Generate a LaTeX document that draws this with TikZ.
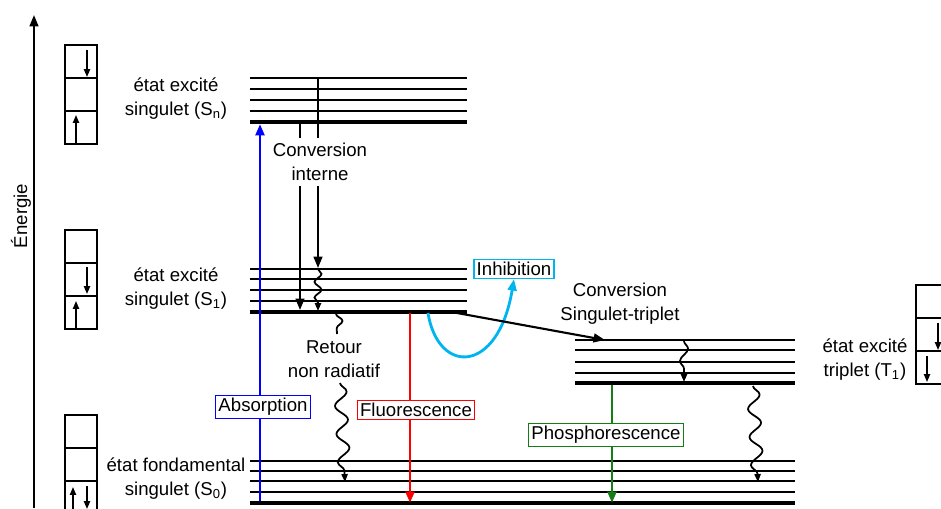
\documentclass[tikz,border=0pt]{standalone}
\usepackage{fontspec}
\setmainfont{Liberation Sans}
\usetikzlibrary{arrows.meta,decorations.pathmorphing}
\definecolor{inhibcol}{RGB}{0,180,240}
\definecolor{phoscol}{RGB}{20,125,20}
\tikzset{
  niveau/.style={line width=1pt},
  fondniveau/.style={line width=2.4pt},
  fleche/.style={line width=1.2pt,-{Triangle[length=6.5pt,width=5pt]}},
  spin/.style={line width=0.9pt,-{Triangle[length=4.5pt,width=3.5pt]}},
  ondule/.style 2 args={line width=1pt,-{Triangle[length=4.5pt,width=3.5pt]},decorate,
    decoration={snake,amplitude=#1,segment length=#2,post length=3pt}},
  etiq/.style={draw,fill=white,inner sep=1.5pt,line width=0.7pt},
  texte/.style={align=center}
}
\begin{document}
\begin{tikzpicture}[x=0.02cm,y=-0.02cm,font=\fontsize{10.6}{13.6}\selectfont]
\clip (0,0) rectangle (941,508);
% axe des energies
\coordinate (axebas) at (34,508);
\coordinate (axehaut) at (34,15);
\draw[fleche] (axebas) -- (axehaut);
\node[rotate=90] (energie) at (21,216) {Énergie};
% cases de spin
\foreach \xb/\yb in {65/45,65/230,65/415,916/285}
  \foreach \k in {0,1,2}
    \draw[line width=0.7pt] (\xb,\yb+33*\k) rectangle ++(32,33);
\draw[spin] (87,50) -- (87,77);
\draw[spin] (76,143) -- (76,115);
\draw[spin] (87,267) -- (87,294);
\draw[spin] (76,328) -- (76,301);
\draw[spin] (73,509) -- (73,487);
\draw[spin] (87,486) -- (87,509);
\draw[spin] (938,323) -- (938,350);
\draw[spin] (927,356) -- (927,382);
% niveaux
\foreach \y in {78,89,100,111} \draw[niveau] (250,\y) -- (467,\y);
\draw[fondniveau] (250,122) -- (467,122);
\foreach \y in {269,279,290,301} \draw[niveau] (250,\y) -- (467,\y);
\draw[fondniveau] (250,312) -- (467,312);
\foreach \y in {340,350,362,373} \draw[niveau] (575,\y) -- (795,\y);
\draw[fondniveau] (575,383) -- (795,383);
\foreach \y in {461,471,481,492} \draw[niveau] (250,\y) -- (795,\y);
\draw[fondniveau] (250,503) -- (795,503);
% noms des etats
\node[texte] (sn) at (176,99) {état excité\\singulet (S\textsubscript{n})};
\node[texte] (s1) at (176,289) {état excité\\singulet (S\textsubscript{1})};
\node[texte] (s0) at (176,479) {état fondamental\\singulet (S\textsubscript{0})};
\node[texte] (t1) at (865,360) {état excité\\triplet (T\textsubscript{1})};
% conversion interne
\coordinate (ciA) at (300,122);
\coordinate (ciAb) at (300,310);
\coordinate (ciB) at (318,78);
\coordinate (ciBb) at (318,268);
\draw[fleche] (ciA) -- (ciAb);
\draw[fleche] (ciB) -- (ciBb);
\node[texte,fill=white,inner xsep=1pt,inner ysep=3pt] (convint) at (320,162) {Conversion\\interne};
\draw[ondule={2pt}{9pt}] (318,269) -- (318,311);
% absorption
\coordinate (absbas) at (260,501);
\coordinate (abshaut) at (260,124);
\draw[fleche,blue,line width=1.6pt] (absbas) -- (abshaut);
\node[etiq,draw=blue] (absorption) at (263,407) {Absorption};
% retour non radiatif
\draw[line width=1pt,decorate,decoration={snake,amplitude=3.5pt,segment length=13pt}] (336,314) -- (337,334);
\node[texte] (retour) at (334,359) {Retour\\non radiatif};
\draw[ondule={3.5pt}{16pt}] (340,383) -- (345,482);
% fluorescence
\coordinate (fluohaut) at (410,313);
\coordinate (fluobas) at (410,503);
\draw[fleche,red,line width=1.6pt] (fluohaut) -- (fluobas);
\node[etiq,draw=red] (fluorescence) at (416,410) {Fluorescence};
% inhibition
\node[etiq,draw=inhibcol] (inhibition) at (514,269) {Inhibition};
\coordinate (inhdep) at (428,313);
\draw[fleche,inhibcol,line width=1.6pt] (inhdep) .. controls (438,375) and (498,375) .. (inhibition.south);
% conversion singulet-triplet
\coordinate (stdep) at (457,313);
\coordinate (starr) at (605,340);
\draw[fleche] (stdep) -- (starr);
\node[texte] (convst) at (620,304) {Conversion\\Singulet-triplet};
% phosphorescence
\draw[ondule={2.3pt}{14pt}] (684,341) -- (684,382);
\coordinate (phoshaut) at (612,385);
\coordinate (phosbas) at (612,503);
\draw[fleche,phoscol,line width=1.6pt] (phoshaut) -- (phosbas);
\node[etiq,draw=phoscol] (phosphorescence) at (606,435) {Phosphorescence};
\draw[ondule={3.5pt}{16pt}] (753,386) -- (758,482);
\end{tikzpicture}
\end{document}
